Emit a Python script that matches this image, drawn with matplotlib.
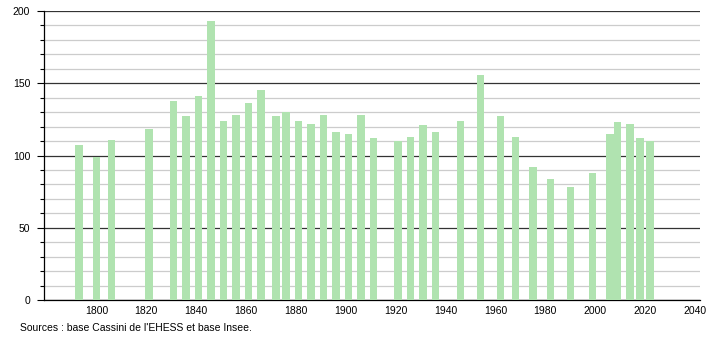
import matplotlib
matplotlib.use("Agg")
import matplotlib.pyplot as plt
from matplotlib.ticker import MultipleLocator

years = [1793, 1800, 1806, 1821, 1831, 1836, 1841, 1846, 1851, 1856, 1861, 1866,
         1872, 1876, 1881, 1886, 1891, 1896, 1901, 1906, 1911, 1921, 1926, 1931,
         1936, 1946, 1954, 1962, 1968, 1975, 1982, 1990, 1999, 2006, 2009, 2014,
         2018, 2022]
population = [107, 99, 111, 118, 138, 127, 141, 193, 124, 128, 136, 145,
              127, 130, 124, 122, 128, 116, 115, 128, 112, 110, 113, 121,
              116, 124, 156, 127, 113, 92, 84, 78, 88, 115, 123, 122,
              112, 110]
xticks = [1800, 1820, 1840, 1860, 1880, 1900, 1920, 1940, 1960, 1980, 2000, 2020, 2040]
source_text = "Sources : base Cassini de l'EHESS et base Insee."

plt.rcParams['font.family'] = ['Liberation Sans', 'DejaVu Sans']

fig = plt.figure(figsize=(7.1, 3.4), dpi=100)
ax = fig.add_axes([44/710, 40/340, 656/710, 289/340])

ax.bar(years, population, width=3.0, color='#b0e3b0', zorder=3)

ax.set_xlim(1779, 2042)
ax.set_ylim(0, 200)
ax.set_xticks(xticks)
ax.yaxis.set_major_locator(MultipleLocator(50))
ax.yaxis.set_minor_locator(MultipleLocator(10))

ax.grid(axis='y', which='major', color='#333333', linewidth=0.9, zorder=1)
ax.grid(axis='y', which='minor', color='#cccccc', linewidth=0.9, zorder=0)
ax.grid(axis='x', visible=False)

for s in ['top', 'right']:
    ax.spines[s].set_visible(False)
ax.spines['left'].set_color('black')
ax.spines['bottom'].set_color('black')
ax.spines['left'].set_linewidth(0.9)
ax.spines['bottom'].set_linewidth(0.9)

ax.tick_params(axis='y', which='major', length=5, width=0.8, labelsize=7.5, pad=5)
ax.tick_params(axis='y', which='minor', length=3, width=0.8)
ax.tick_params(axis='x', which='both', length=0, labelsize=7.5, pad=4)

fig.text(20/710, 1 - 328/340, source_text, fontsize=7.5, ha='left', va='center')

fig.savefig('out.png', dpi=100)
